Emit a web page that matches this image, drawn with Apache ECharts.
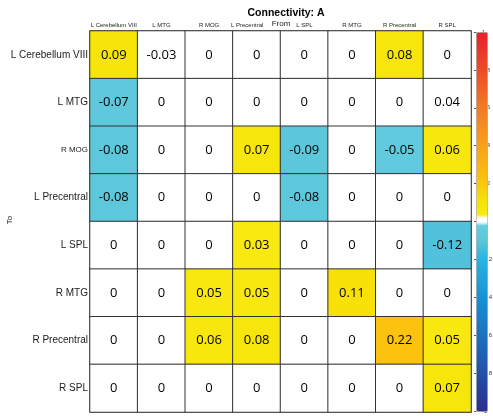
<!DOCTYPE html>
<html>
<head>
<meta charset="utf-8">
<script src="https://cdn.jsdelivr.net/npm/echarts@6/dist/echarts.min.js"></script>
<style>
html,body{margin:0;padding:0;background:#fff;}
#chart{width:493px;height:416px;}
</style>
</head>
<body>
<div id="chart"></div>
<script>
// Columns (From) and rows (To)
var fromRegions = ['L Cerebellum VIII','L MTG','R MOG','L Precentral','L SPL','R MTG','R Precentral','R SPL'];
var toRegions   = ['L Cerebellum VIII','L MTG','R MOG','L Precentral','L SPL','R MTG','R Precentral','R SPL'];

// Connectivity values shown in cells: rows = To, columns = From
var connectivity = [
  [ 0.09, -0.03, 0,    0,    0,    0,    0.08,  0   ],
  [-0.07,  0,    0,    0,    0,    0,    0,     0.04],
  [-0.08,  0,    0,    0.07, -0.09, 0,   -0.05,  0.06],
  [-0.08,  0,    0,    0,   -0.08, 0,    0,     0   ],
  [ 0,     0,    0,    0.03, 0,    0,    0,    -0.12],
  [ 0,     0,    0.05, 0.05, 0,    0.11, 0,     0   ],
  [ 0,     0,    0.06, 0.08, 0,    0,    0.22,  0.05],
  [ 0,     0,    0,    0,    0,    0,    0,     0.07]
];
// Which cells are coloured (1) or left white (0)
var significant = [
  [1,0,0,0,0,0,1,0],
  [1,0,0,0,0,0,0,0],
  [1,0,0,1,1,0,1,1],
  [1,0,0,0,1,0,0,0],
  [0,0,0,1,0,0,0,1],
  [0,0,1,1,0,1,0,0],
  [0,0,1,1,0,0,1,1],
  [0,0,0,0,0,0,0,1]
];
var colorbarTicks = [-1, 1, 0.2];

// colormap stops (style)
var cmapStops = [
  [-1,'#2b2e8c'],[-0.8,'#2350a8'],[-0.6,'#1c70c0'],[-0.4,'#1792d3'],[-0.2,'#2ab3e0'],
  [-0.1,'#5ac6da'],[-0.02,'#66cce0'],[-0.014,'#ffffff'],[0.02,'#ffffff'],[0.026,'#f8ea12'],
  [0.1,'#f7e408'],[0.22,'#fbc20e'],[0.4,'#f8a21c'],[0.6,'#f27a24'],[0.8,'#ec4e28'],[1,'#e6202a']
];
function hex2rgb(h){return [parseInt(h.substr(1,2),16),parseInt(h.substr(3,2),16),parseInt(h.substr(5,2),16)];}
function cmap(v){
  for(var k=0;k<cmapStops.length-1;k++){
    var a=cmapStops[k],b=cmapStops[k+1];
    if(v>=a[0]-1e-9 && v<=b[0]+1e-9){
      var t=(v-a[0])/(b[0]-a[0]);var ca=hex2rgb(a[1]),cb=hex2rgb(b[1]);
      return 'rgb('+Math.round(ca[0]+(cb[0]-ca[0])*t)+','+Math.round(ca[1]+(cb[1]-ca[1])*t)+','+Math.round(ca[2]+(cb[2]-ca[2])*t)+')';
    }
  }
  return cmapStops[cmapStops.length-1][1];
}
var palette=[];
for(var s=0;s<=400;s++){palette.push(cmap(-1+s*0.005));}

var cells=[];
for(var i=0;i<toRegions.length;i++){
  for(var j=0;j<fromRegions.length;j++){
    var v=connectivity[i][j];
    cells.push([j,i,significant[i][j]?v:0,v]);
  }
}

var chart=echarts.init(document.getElementById('chart'),null,{renderer:'canvas'});
var tickStyle={show:true,inside:true,length:3,alignWithLabel:true,lineStyle:{color:'#888',width:1}};
var lineStyle={show:true,lineStyle:{color:'#a0a0a0',width:2}};
var option={
  backgroundColor:'#fff',
  animation:false,
  title:{text:'Connectivity: A',left:281,top:3,textAlign:'center',
    textStyle:{fontFamily:'Liberation Sans',fontSize:10.5,fontWeight:'bold',color:'#000'}},
  graphic:[
    {type:'text',x:281,y:23.5,style:{text:'From',align:'center',verticalAlign:'middle',textAlign:'center',textVerticalAlign:'middle',font:'8px "Liberation Sans"',fill:'#222'}},
    {type:'text',x:10,y:220,rotation:Math.PI/2,style:{text:'To',align:'center',verticalAlign:'middle',textAlign:'center',textVerticalAlign:'middle',font:'8px "Liberation Sans"',fill:'#222'}}
  ],
  grid:[
    {left:90,top:31,width:381,height:381},
    {left:476,top:32,width:11,height:379}
  ],
  xAxis:[
    {type:'category',gridIndex:0,position:'top',data:fromRegions,
      axisLine:lineStyle,axisTick:tickStyle,splitLine:{show:false},
      axisLabel:{interval:0,fontSize:6,margin:3,color:'#222',fontFamily:'Liberation Sans',
        formatter:function(v){return v==='L Precentral'?'{p|L Precentral}':v;},
        rich:{p:{fontSize:6,fontFamily:'Liberation Sans',color:'#222',padding:[0,19,0,0]}}}},
    {type:'category',gridIndex:0,position:'bottom',data:fromRegions,
      axisLine:lineStyle,axisTick:tickStyle,axisLabel:{show:false}},
    {type:'value',gridIndex:1,show:false,min:0,max:1}
  ],
  yAxis:[
    {type:'category',gridIndex:0,position:'left',inverse:true,data:toRegions,
      axisLine:lineStyle,axisTick:tickStyle,
      axisLabel:{interval:0,fontSize:10,margin:2,color:'#222',fontFamily:'Liberation Sans',
        formatter:function(v){return v==='R MOG'?'{s|R MOG}':v;},
        rich:{s:{fontSize:8,fontFamily:'Liberation Sans',color:'#222'}}}},
    {type:'category',gridIndex:0,position:'right',inverse:true,data:toRegions,
      axisLine:lineStyle,axisTick:tickStyle,axisLabel:{show:false}},
    {type:'value',gridIndex:1,position:'right',min:colorbarTicks[0],max:colorbarTicks[1],interval:colorbarTicks[2],
      axisLine:{show:false},splitLine:{show:false},
      axisTick:{show:true,inside:true,length:2,lineStyle:{color:'#555'}},
      axisLabel:{fontSize:6,margin:3,color:'#333',fontFamily:'Liberation Sans'}}
  ],
  visualMap:{
    type:'continuous',min:-1,max:1,dimension:2,seriesIndex:0,calculable:false,
    orient:'vertical',left:476,top:32,itemWidth:11,itemHeight:379,padding:0,
    borderColor:'#aaa',borderWidth:1,
    inRange:{color:palette},hoverLink:false
  },
  series:[{
    type:'heatmap',xAxisIndex:0,yAxisIndex:0,data:cells,
    itemStyle:{borderColor:'#333',borderWidth:1},
    label:{show:true,fontFamily:'Open Sans',fontSize:13,color:'#000',
      formatter:function(p){var v=p.data[3];return v===0?'0':v.toFixed(2);}},
    emphasis:{disabled:true}
  }]
};
chart.setOption(option);
</script>
</body>
</html>
